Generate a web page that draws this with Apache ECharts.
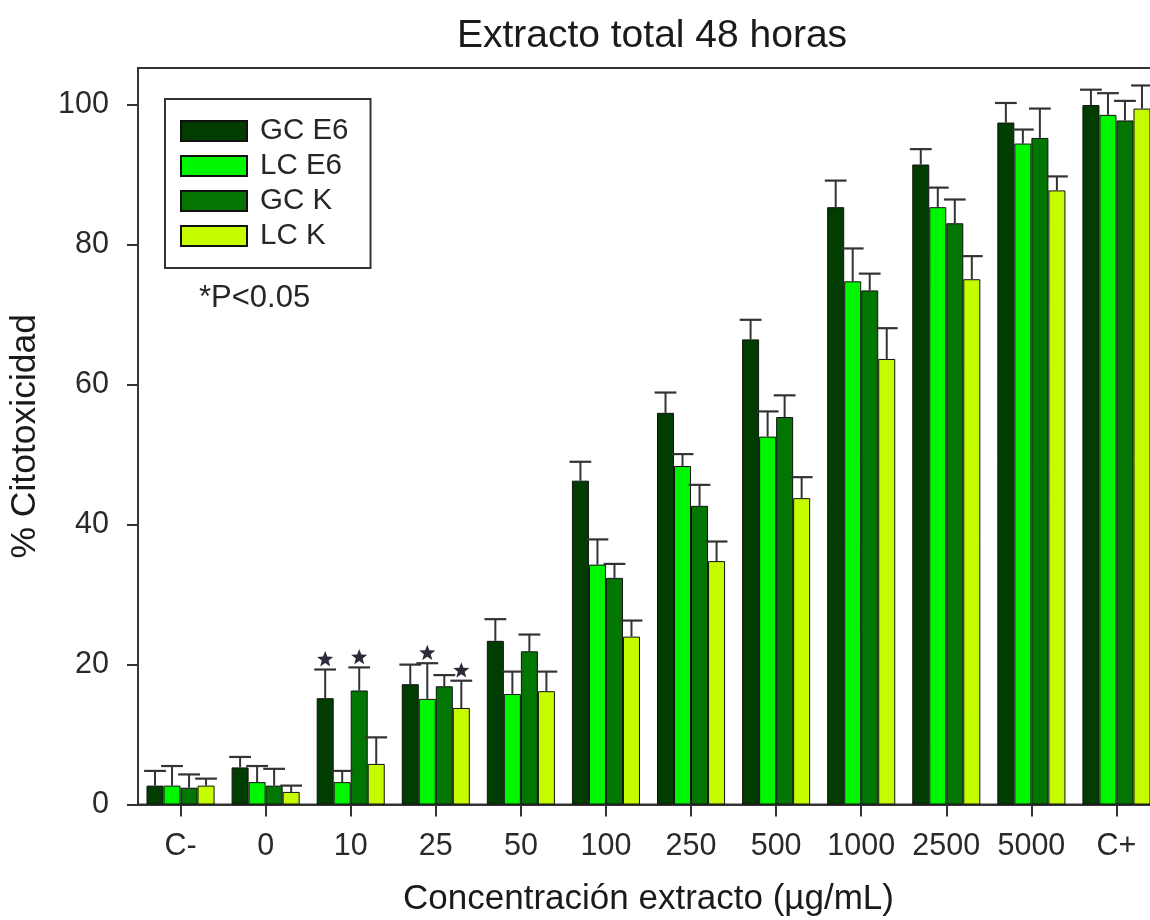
<!DOCTYPE html>
<html>
<head>
<meta charset="utf-8">
<title>Extracto total 48 horas</title>
<script src="https://cdn.jsdelivr.net/npm/echarts@6/dist/echarts.min.js"></script>
<style>
  html, body { margin: 0; padding: 0; background: #ffffff; }
  #chart { width: 1150px; height: 920px; }
</style>
</head>
<body>
<div id="chart"></div>
<script>
// Concentrations tested (µg/mL) plus negative / positive controls
const categories = ['C-', '0', '10', '25', '50', '100', '250', '500', '1000', '2500', '5000', 'C+'];

// Mean % cytotoxicity per cell line and its error (upper bar only)
const gcE6    = [2.7, 5.3, 15.2, 17.2, 23.4, 46.3, 56.0, 66.5, 85.4, 91.5, 97.5, 100.0];
const gcE6Err = [2.1, 1.5, 4.1, 2.8, 3.1, 2.7, 2.9, 2.8, 3.8, 2.2, 2.8, 2.2];
const lcE6    = [2.7, 3.2, 3.2, 15.1, 15.8, 34.3, 48.4, 52.6, 74.8, 85.4, 94.5, 98.6];
const lcE6Err = [2.8, 2.3, 1.6, 5.1, 3.2, 3.6, 1.7, 3.6, 4.7, 2.8, 2.0, 3.1];
const gcK     = [2.4, 2.7, 16.3, 16.9, 21.9, 32.4, 42.7, 55.4, 73.5, 83.1, 95.3, 97.8];
const gcKErr  = [1.9, 2.4, 3.3, 1.6, 2.4, 2.0, 3.0, 3.1, 2.4, 3.4, 4.2, 2.8];
const lcK     = [2.7, 1.8, 5.8, 13.8, 16.2, 24.0, 34.8, 43.8, 63.7, 75.1, 87.8, 99.5];
const lcKErr  = [1.0, 0.9, 3.8, 3.9, 2.8, 2.3, 2.8, 3.0, 4.4, 3.3, 2.0, 3.3];

// Bars flagged as significant (*P<0.05), by concentration
const gcE6Sig = ['10'];
const lcE6Sig = ['25'];
const gcKSig  = ['10'];
const lcKSig  = ['25'];

const seriesNames = ['GC E6', 'LC E6', 'GC K', 'LC K'];
const yTicks = [0, 20, 40, 60, 80, 100];

const groups = [
  { name: seriesNames[0], values: gcE6, errors: gcE6Err, sig: gcE6Sig, color: '#013d01' },
  { name: seriesNames[1], values: lcE6, errors: lcE6Err, sig: lcE6Sig, color: '#00f500' },
  { name: seriesNames[2], values: gcK,  errors: gcKErr,  sig: gcKSig,  color: '#037503' },
  { name: seriesNames[3], values: lcK,  errors: lcKErr,  sig: lcKSig,  color: '#c6fc00' }
];

const FONT = '"Liberation Sans", Arial, sans-serif';
const INK = '#262626';
const BAR_SHARE = 0.2;   // each bar takes 20% of a category band

function starPoints(cx, cy, rOut, rIn) {
  const pts = [];
  for (let k = 0; k < 10; k++) {
    const r = k % 2 === 0 ? rOut : rIn;
    const a = -Math.PI / 2 + k * Math.PI / 5;
    pts.push([cx + r * Math.cos(a), cy + r * Math.sin(a)]);
  }
  return pts;
}

// Error whisker (plus optional significance star) for one bar of series gi
function errorRenderer(gi) {
  return function (params, api) {
    const catIdx = api.value(0);
    const mean = api.value(1);
    const err = api.value(2);
    const sig = api.value(3);
    const band = api.size([1, 0])[0];
    const bw = band * BAR_SHARE;
    const base = api.coord([catIdx, mean]);
    const top = api.coord([catIdx, mean + err]);
    const x = base[0] + (gi - 1.5) * bw;
    const half = bw * 0.64;
    const children = [
      { type: 'line', shape: { x1: x, y1: base[1], x2: x, y2: top[1] },
        style: { stroke: '#333333', lineWidth: 2 } },
      { type: 'line', shape: { x1: x - half, y1: top[1], x2: x + half, y2: top[1] },
        style: { stroke: '#333333', lineWidth: 2.2 } }
    ];
    if (sig) {
      children.push({ type: 'polygon',
        shape: { points: starPoints(x, top[1] - 10, 8.5, 3.6) },
        style: { fill: '#2b2b3a' } });
    }
    return { type: 'group', children: children };
  };
}

const series = [];
groups.forEach(function (g) {
  series.push({
    name: g.name,
    type: 'bar',
    data: g.values,
    barWidth: (BAR_SHARE * 100) + '%',
    barGap: '0%',
    itemStyle: { color: g.color, borderColor: '#111111', borderWidth: 1 },
    emphasis: { disabled: true },
    z: 2
  });
});
groups.forEach(function (g, gi) {
  series.push({
    name: g.name + ' error',
    type: 'custom',
    renderItem: errorRenderer(gi),
    data: g.values.map(function (v, i) {
      return [i, v, g.errors[i], g.sig.indexOf(categories[i]) >= 0 ? 1 : 0];
    }),
    encode: { x: 0, y: 1 },
    silent: true,
    z: 3
  });
});

const chart = echarts.init(document.getElementById('chart'), null, { renderer: 'canvas' });
chart.setOption({
  backgroundColor: '#ffffff',
  animation: false,
  textStyle: { fontFamily: FONT },
  grid: {
    left: 138, top: 68, width: 1021, height: 736.5,
    show: true, borderColor: '#333333', borderWidth: 2,
    backgroundColor: 'transparent',
    containLabel: false,
    outerBoundsMode: 'none'
  },
  legend: {
    data: seriesNames,
    orient: 'vertical',
    left: 165, top: 99,
    padding: [17, 22, 17, 15],
    itemGap: 5,
    itemWidth: 66, itemHeight: 20,
    icon: 'rect',
    borderColor: '#333333', borderWidth: 2,
    backgroundColor: '#ffffff',
    selectedMode: false,
    textStyle: { fontFamily: FONT, fontSize: 29.5, color: INK, lineHeight: 30, padding: [0, 0, 0, 8] }
  },
  graphic: [
    { type: 'text', x: 652, y: 36,
      style: { text: 'Extracto total 48 horas', font: '39px ' + FONT, fill: '#1a1a1a',
               textAlign: 'center', textVerticalAlign: 'middle' } },
    { type: 'text', x: 199, y: 298,
      style: { text: '*P<0.05', font: '31px ' + FONT, fill: INK,
               textAlign: 'left', textVerticalAlign: 'middle' } }
  ],
  xAxis: {
    type: 'category',
    data: categories,
    boundaryGap: true,
    name: 'Concentración extracto (µg/mL)',
    nameLocation: 'middle',
    nameGap: 77,
    nameTextStyle: { fontFamily: FONT, fontSize: 35, color: '#1a1a1a' },
    axisLine: { show: true, lineStyle: { color: '#333333', width: 2 } },
    axisTick: { show: true, alignWithLabel: true, length: 12, lineStyle: { color: '#333333', width: 2 } },
    axisLabel: { show: true, interval: 0, margin: 27, fontFamily: FONT, fontSize: 30.5, color: '#2a2a2a' },
    splitLine: { show: false }
  },
  yAxis: {
    type: 'value',
    min: 0, max: 105.3, interval: 20,
    name: '% Citotoxicidad',
    nameLocation: 'middle',
    nameRotate: 90,
    nameGap: 95,
    nameTextStyle: { fontFamily: FONT, fontSize: 35.5, color: '#1a1a1a' },
    axisLine: { show: true, lineStyle: { color: '#333333', width: 2 } },
    axisTick: { show: true, length: 11, customValues: yTicks, lineStyle: { color: '#333333', width: 2 } },
    axisLabel: {
      show: true, margin: 29, fontFamily: FONT, fontSize: 30.5, color: '#2a2a2a',
      customValues: yTicks,
      formatter: function (v) { return yTicks.indexOf(v) >= 0 ? String(v) : ''; }
    },
    splitLine: { show: false }
  },
  series: series
});
</script>
</body>
</html>
